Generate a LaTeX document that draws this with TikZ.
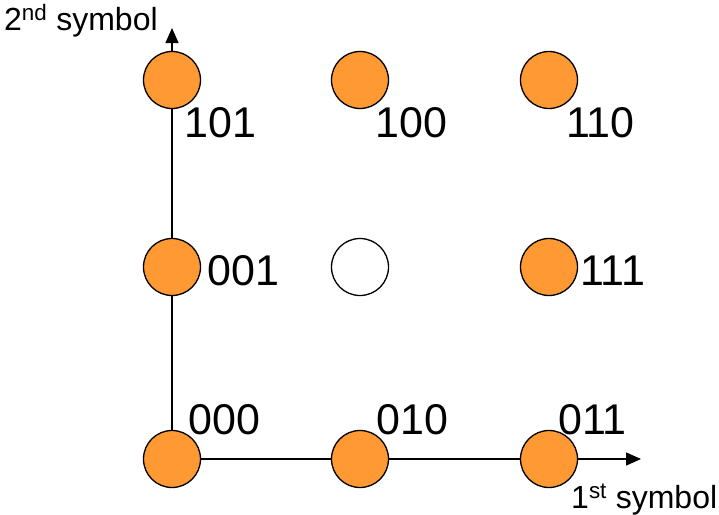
\documentclass[tikz,border=0pt]{standalone}
\usepackage{fontspec}
\setmainfont{Liberation Sans}
\usetikzlibrary{arrows.meta}
\definecolor{dotorange}{RGB}{255,153,51}
\begin{document}
\begin{tikzpicture}[x=1pt,y=-1pt,
  pt/.style={circle,draw=black,line width=1.3pt,fill=dotorange,minimum size=57pt,inner sep=0pt},
  emptypt/.style={pt,fill=white},
  lbl/.style={anchor=base west,inner sep=0pt,font=\fontsize{43}{43}\selectfont},
  axlbl/.style={anchor=base west,inner sep=0pt,font=\fontsize{32}{32}\selectfont},
  axis/.style={line width=1.4pt,-{Triangle[length=15pt,width=13pt]}}]
\useasboundingbox (0,0) rectangle (719,514);
\coordinate (ytip) at (172,28);
\coordinate (xtip) at (641,459);
\coordinate (c000p) at (172,459);
\draw[axis] (c000p) -- (ytip);
\draw[axis] (c000p) -- (xtip);
% points
\node[pt] (c101) at (172,80) {};
\node[pt] (c100) at (360,80) {};
\node[pt] (c110) at (549,80) {};
\node[pt] (c001) at (172,267) {};
\node[emptypt] (cmid) at (360,267) {};
\node[pt] (c111) at (549,267) {};
\node[pt] (c000) at (172,459) {};
\node[pt] (c010) at (360,459) {};
\node[pt] (c011) at (549,459) {};
% labels
\node[lbl] (l101) at (184,137) {101};
\node[lbl] (l100) at (375,137) {100};
\node[lbl] (l110) at (566,137) {110};
\node[lbl] (l001) at (207,285) {001};
\node[lbl] (l111) at (580,285) {111};
\node[lbl] (l000) at (188,434) {000};
\node[lbl] (l010) at (376,434) {010};
\node[lbl] (l011) at (558,434) {011};
\node[axlbl] (ylab) at (4,30) {2\textsuperscript{nd} symbol};
\node[axlbl] (xlab) at (571,508) {1\textsuperscript{st} symbol};
\end{tikzpicture}
\end{document}
